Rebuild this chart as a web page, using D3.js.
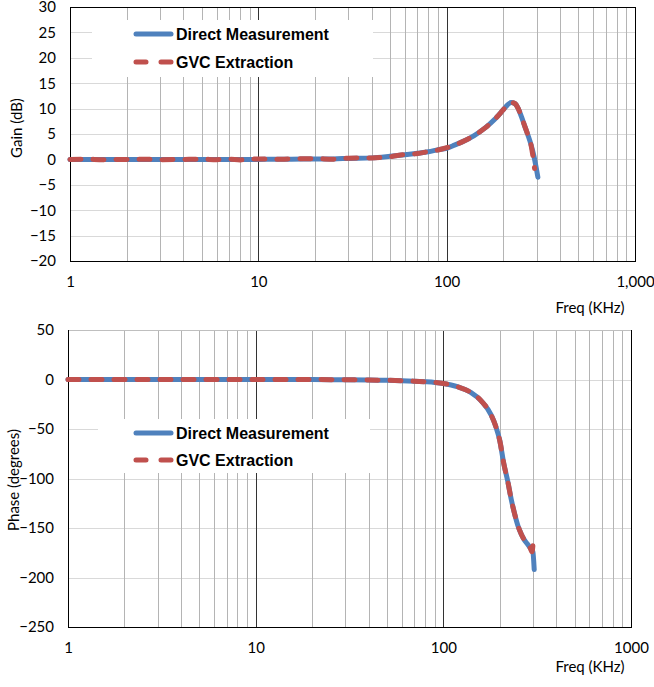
<!DOCTYPE html>
<html>
<head>
<meta charset="utf-8">
<script src="https://cdn.jsdelivr.net/npm/d3@7"></script>
<style>
  body { margin: 0; background: #fff; }
  svg { display: block; }
  .tick text { font-family: Lato, "Open Sans", sans-serif; font-size: 15px; fill: #000; }
  .legend text { font-family: "Liberation Sans", Arial, sans-serif; font-size: 16px; font-weight: bold; }
</style>
</head>
<body>
<script>
// gain chart data
const gainFreq = [1, 1.2, 1.5, 2, 2.5, 3, 4, 5, 6, 7, 8, 9, 10, 12, 15, 20, 25, 30, 40, 50, 60, 70, 80, 90, 100, 110, 120, 140, 160, 180, 200, 210, 220, 230, 240, 250, 260, 270, 280, 290, 300, 305];
const gainDirect = [0, 0, 0, 0, 0, 0, 0, 0, 0, 0, 0, 0, 0, 0.05, 0.05, 0.1, 0.1, 0.2, 0.3, 0.6, 0.9, 1.2, 1.5, 1.9, 2.2, 2.8, 3.4, 4.7, 6.2, 7.9, 9.8, 10.7, 11.2, 11.0, 10.0, 8.3, 6.5, 4.8, 3.0, 0.8, -2.0, -3.5];
const gainFreqGvc = [1, 1.2, 1.5, 2, 2.5, 3, 4, 5, 6, 7, 8, 9, 10, 12, 15, 20, 25, 30, 40, 50, 60, 70, 80, 90, 100, 110, 120, 140, 160, 180, 200, 210, 220, 230, 240, 250, 260, 270, 280, 293];
const gainGvc = [0, 0.05, -0.05, 0, 0.05, -0.05, 0, 0.05, -0.05, 0.05, -0.1, 0.05, 0.1, 0, 0.1, 0.15, 0.05, 0.25, 0.3, 0.55, 0.95, 1.15, 1.55, 1.85, 2.3, 2.8, 3.4, 4.7, 6.2, 7.9, 9.8, 10.7, 11.2, 11.0, 10.0, 8.3, 6.5, 4.8, 3.0, -1.8];
const gainTicks = [-20, -15, -10, -5, 0, 5, 10, 15, 20, 25, 30];

// phase chart data
const phaseFreq = [1, 1.5, 2, 3, 4, 5, 7, 10, 15, 20, 30, 40, 50, 60, 70, 80, 90, 100, 110, 120, 140, 160, 180, 190, 200, 210, 220, 230, 240, 250, 260, 270, 280, 290, 300, 305];
const phaseDirect = [0, 0, 0, 0, 0, 0, 0, 0, 0, 0, -0.3, -0.5, -0.8, -1.2, -1.7, -2.3, -3, -4, -5.5, -7.5, -13, -22, -36, -47, -62, -85, -102, -121, -136, -148, -156, -162, -166, -170, -174, -192];
const phaseFreqGvc = [1, 1.5, 2, 3, 4, 5, 7, 10, 15, 20, 30, 40, 50, 60, 70, 80, 90, 100, 110, 120, 140, 160, 180, 190, 200, 210, 220, 230, 240, 250, 260, 270, 280, 290, 297, 300];
const phaseGvc = [0, 0, 0, 0, 0, 0, 0, 0, 0, 0, -0.3, -0.5, -0.8, -1.2, -1.7, -2.3, -3, -4, -5.5, -7.5, -13, -22, -36, -47, -62, -85, -102, -121, -136, -148, -156, -162, -166, -170, -174, -168];
const phaseTicks = [-250, -200, -150, -100, -50, 0, 50];

const seriesNames = ["Direct Measurement", "GVC Extraction"];
const blue = "#4F81BD", red = "#C0504D";

const svg = d3.select("body").append("svg").attr("width", 654).attr("height", 687);

function drawChart(opt) {
  const x = d3.scaleLog().domain([1, 1000]).range([opt.left, opt.right]);
  const y = d3.scaleLinear().domain([opt.yTicks[0], opt.yTicks[opt.yTicks.length - 1]]).range([opt.bottom, opt.top]);
  const g = svg.append("g");

  // horizontal grid
  g.selectAll(".hg").data(opt.yTicks).enter().append("line")
    .attr("x1", opt.left).attr("x2", opt.right)
    .attr("y1", d => Math.round(y(d)) + 0.5).attr("y2", d => Math.round(y(d)) + 0.5)
    .attr("stroke", "#d9d9d9").attr("stroke-width", 1);

  // vertical grid: minors and decades
  const minors = [];
  [1, 10, 100].forEach(dec => { for (let k = 2; k <= 9; k++) minors.push(dec * k); });
  g.selectAll(".vg").data(minors).enter().append("line")
    .attr("x1", d => Math.round(x(d)) + 0.5).attr("x2", d => Math.round(x(d)) + 0.5)
    .attr("y1", opt.top).attr("y2", opt.bottom)
    .attr("stroke", "#b4b4b4").attr("stroke-width", 1);
  g.selectAll(".vd").data([10, 100]).enter().append("line")
    .attr("x1", d => Math.round(x(d)) + 0.5).attr("x2", d => Math.round(x(d)) + 0.5)
    .attr("y1", opt.top).attr("y2", opt.bottom)
    .attr("stroke", "#333").attr("stroke-width", 1);

  // legend box hides grid
  g.append("rect").attr("x", opt.legX).attr("y", opt.legY)
    .attr("width", opt.legW).attr("height", opt.legH).attr("fill", "#fff");

  // frame
  g.append("line").attr("x1", opt.left).attr("x2", opt.right)
    .attr("y1", opt.top + 0.5).attr("y2", opt.top + 0.5).attr("stroke", opt.frame);
  g.append("line").attr("x1", opt.left + 0.5).attr("x2", opt.left + 0.5)
    .attr("y1", opt.top).attr("y2", opt.bottom + 1).attr("stroke", "#000");
  g.append("line").attr("x1", opt.left).attr("x2", opt.right + 1)
    .attr("y1", opt.bottom + 0.5).attr("y2", opt.bottom + 0.5).attr("stroke", "#000");
  g.append("line").attr("x1", opt.right + 0.5).attr("x2", opt.right + 0.5)
    .attr("y1", opt.top).attr("y2", opt.bottom + 1).attr("stroke", "#000");

  // axes (labels only)
  const yAxis = d3.axisLeft(y).tickValues(opt.yTicks).tickSize(0).tickPadding(opt.yPad);
  g.append("g").attr("transform", "translate(" + opt.left + ",0)").call(yAxis)
    .call(a => a.select(".domain").remove());
  const xAxis = d3.axisBottom(x).tickValues([1, 10, 100, 1000]).tickSize(0).tickPadding(opt.xPad)
    .tickFormat(opt.xFormat);
  g.append("g").attr("transform", "translate(0," + opt.bottom + ")").call(xAxis)
    .call(a => a.select(".domain").remove());

  // titles
  g.append("text").attr("x", opt.xTitleX).attr("y", opt.xTitleY).attr("text-anchor", "middle")
    .style("font-family", "Lato, sans-serif").style("font-size", "15px").text("Freq (KHz)");
  g.append("text").attr("transform", "translate(" + opt.yTitleX + "," + opt.yTitleY + ") rotate(-90)")
    .attr("text-anchor", "middle")
    .style("font-family", "Lato, sans-serif").style("font-size", "15px").text(opt.yTitle);

  // lines
  const line = d3.line().x(d => x(d[0])).y(d => y(d[1])).curve(d3.curveMonotoneX);
  g.append("path").datum(d3.zip(opt.f1, opt.v1)).attr("d", line)
    .attr("fill", "none").attr("stroke", blue).attr("stroke-width", 5)
    .attr("stroke-linecap", "round").attr("stroke-linejoin", "round");
  g.append("path").datum(d3.zip(opt.f2, opt.v2)).attr("d", line)
    .attr("fill", "none").attr("stroke", red).attr("stroke-width", 5)
    .attr("stroke-dasharray", "11,12")
    .attr("stroke-linecap", "round").attr("stroke-linejoin", "round");

  // legend
  const leg = g.append("g").attr("class", "legend");
  seriesNames.forEach((name, i) => {
    const ly = opt.legY + 14 + i * opt.legStep;
    leg.append("line").attr("x1", 136).attr("x2", 171).attr("y1", ly).attr("y2", ly)
      .attr("stroke", i === 0 ? blue : red).attr("stroke-width", 5)
      .attr("stroke-linecap", "round")
      .attr("stroke-dasharray", i === 0 ? null : "10,15");
    leg.append("text").attr("x", 176).attr("y", ly + 6).text(name);
  });
}

drawChart({
  left: 70, right: 635, top: 7, bottom: 261,
  yTicks: gainTicks, yPad: 14, xPad: 15,
  xFormat: d3.format(","),
  f1: gainFreq, v1: gainDirect, f2: gainFreqGvc, v2: gainGvc,
  legX: 92, legY: 20, legW: 281, legH: 57, legStep: 28,
  xTitleX: 590, xTitleY: 313, yTitleX: 22, yTitleY: 128, yTitle: "Gain (dB)",
  frame: "#000"
});

drawChart({
  left: 68, right: 631, top: 330, bottom: 627,
  yTicks: phaseTicks, yPad: 14, xPad: 15,
  xFormat: d3.format("d"),
  f1: phaseFreq, v1: phaseDirect, f2: phaseFreqGvc, v2: phaseGvc,
  legX: 98, legY: 419, legW: 272, legH: 54, legStep: 27,
  xTitleX: 590, xTitleY: 672, yTitleX: 19, yTitleY: 480, yTitle: "Phase (degrees)",
  frame: "#bfbfbf"
});
</script>
</body>
</html>
